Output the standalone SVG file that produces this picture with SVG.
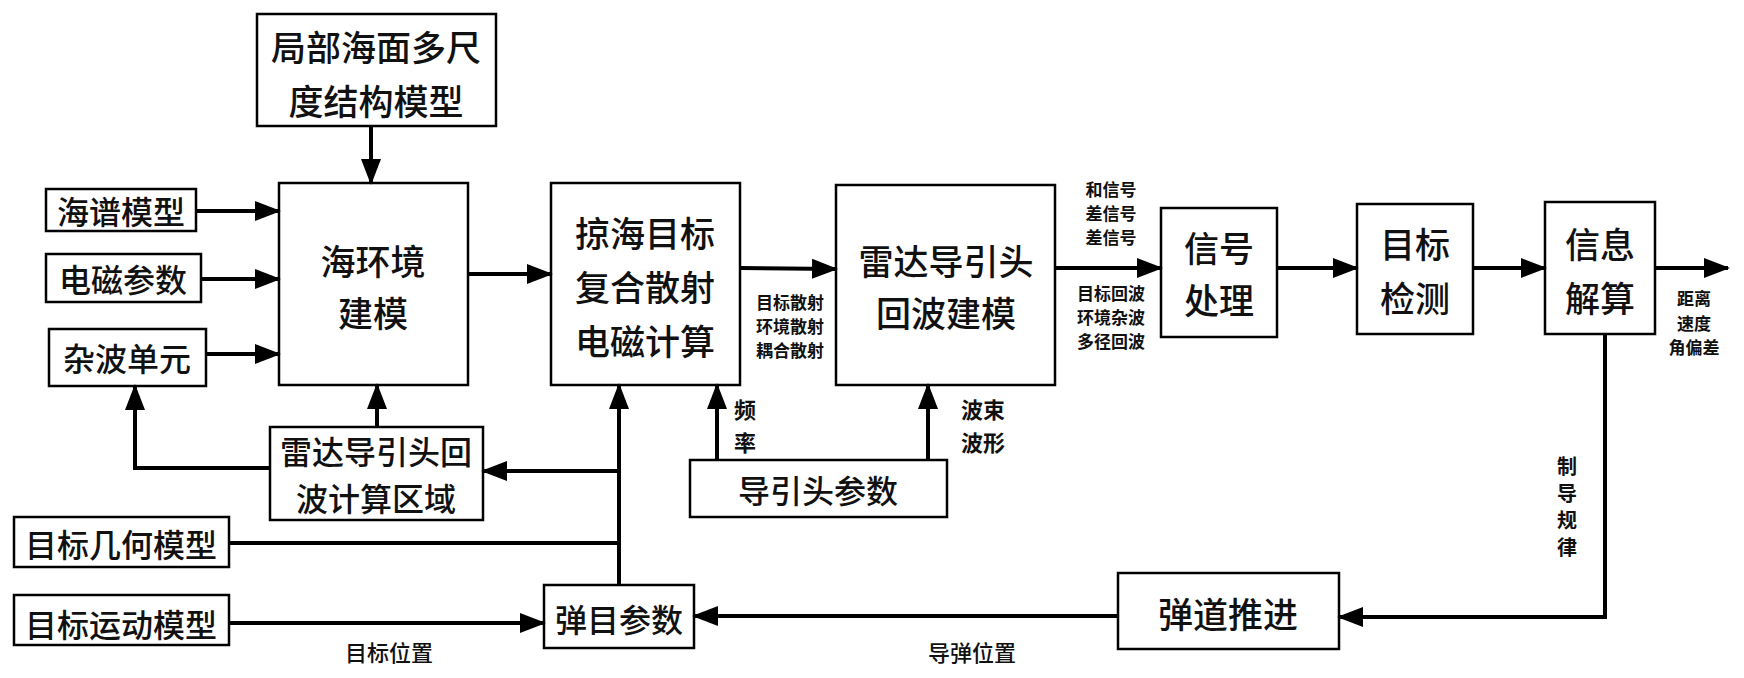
<svg xmlns="http://www.w3.org/2000/svg" width="1744" height="678" viewBox="0 0 1744 678">
<defs>
<marker id="ah" markerUnits="userSpaceOnUse" markerWidth="26" markerHeight="22" refX="24" refY="11" orient="auto"><path d="M0,1 L26,11 L0,21 Z" fill="#000"/></marker>
<style>
.b{fill:#fff;stroke:#000;stroke-width:2.5}
.t{font-family:"Noto Sans CJK SC",sans-serif;font-size:35px;font-weight:500;text-anchor:middle;dominant-baseline:central;fill:#111}
.s{font-family:"Noto Sans CJK SC",sans-serif;font-size:17px;font-weight:bold;text-anchor:middle;dominant-baseline:central;fill:#111}
.m{font-family:"Noto Sans CJK SC",sans-serif;font-size:22px;font-weight:bold;text-anchor:middle;dominant-baseline:central;fill:#111}
.v{font-family:"Noto Sans CJK SC",sans-serif;font-size:20px;font-weight:bold;text-anchor:middle;dominant-baseline:central;fill:#111}
.c{fill:none;stroke:#000;stroke-width:4}
.a{fill:none;stroke:#000;stroke-width:4;marker-end:url(#ah)}
</style>
</defs>
<rect width="1744" height="678" fill="#fff"/>
<g id="n1"><rect class="b" x="257" y="14" width="239" height="112"/><text class="t" x="376" y="45">局部海面多尺</text><text class="t" x="376" y="99">度结构模型</text></g>
<g id="n2"><rect class="b" x="279" y="183" width="189" height="202"/><text class="t" x="373" y="259">海环境</text><text class="t" x="373" y="311">建模</text></g>
<g id="n3"><rect class="b" x="46" y="189" width="150" height="42"/><text class="t" x="121" y="210" style="font-size:32px">海谱模型</text></g>
<g id="n4"><rect class="b" x="46" y="254" width="155" height="48"/><text class="t" x="123" y="278" style="font-size:32px">电磁参数</text></g>
<g id="n5"><rect class="b" x="49" y="329" width="157" height="57"/><text class="t" x="127" y="357" style="font-size:32px">杂波单元</text></g>
<g id="n6"><rect class="b" x="551" y="183" width="189" height="202"/><text class="t" x="645" y="231">掠海目标</text><text class="t" x="645" y="285">复合散射</text><text class="t" x="645" y="339">电磁计算</text></g>
<g id="n7"><rect class="b" x="836" y="185" width="219" height="200"/><text class="t" x="946" y="259">雷达导引头</text><text class="t" x="946" y="311">回波建模</text></g>
<g id="n8"><rect class="b" x="1161" y="208" width="116" height="129"/><text class="t" x="1219" y="246">信号</text><text class="t" x="1219" y="298">处理</text></g>
<g id="n9"><rect class="b" x="1357" y="204" width="116" height="130"/><text class="t" x="1415" y="242">目标</text><text class="t" x="1415" y="296">检测</text></g>
<g id="n10"><rect class="b" x="1545" y="202" width="110" height="132"/><text class="t" x="1600" y="242">信息</text><text class="t" x="1600" y="296">解算</text></g>
<g id="n11"><rect class="b" x="270" y="427" width="213" height="93"/><text class="t" x="376" y="450" style="font-size:32px">雷达导引头回</text><text class="t" x="376" y="497" style="font-size:32px">波计算区域</text></g>
<g id="n12"><rect class="b" x="690" y="460" width="257" height="57"/><text class="t" x="818" y="489" style="font-size:32px">导引头参数</text></g>
<g id="n13"><rect class="b" x="14" y="517" width="215" height="50"/><text class="t" x="121" y="543" style="font-size:32px">目标几何模型</text></g>
<g id="n14"><rect class="b" x="14" y="595" width="215" height="50"/><text class="t" x="121" y="623" style="font-size:32px">目标运动模型</text></g>
<g id="n15"><rect class="b" x="544" y="585" width="150" height="63"/><text class="t" x="619" y="618" style="font-size:32px">弹目参数</text></g>
<g id="n16"><rect class="b" x="1118" y="573" width="221" height="76"/><text class="t" x="1228" y="612">弹道推进</text></g>
<g id="connectors">
<path class="a" d="M371,126 V183"/>
<path class="a" d="M196,211 H279"/>
<path class="a" d="M201,279 H279"/>
<path class="a" d="M206,354 H279"/>
<path class="a" d="M468,274 H551"/>
<path class="a" d="M740,268 L836,269"/>
<path class="a" d="M1055,268 H1161"/>
<path class="a" d="M1277,268 H1357"/>
<path class="a" d="M1473,268 H1545"/>
<path class="a" d="M1655,268 H1728"/>
<path class="a" d="M270,468 H135 V386"/>
<path class="a" d="M377,427 V385"/>
<path class="a" d="M619,585 V385"/>
<path class="a" d="M619,471 H483"/>
<path class="c" d="M229,543 H619"/>
<path class="a" d="M229,623 H544"/>
<path class="a" d="M717,460 V385"/>
<path class="a" d="M928,460 V385"/>
<path class="a" d="M1605,334 V617 H1339"/>
<path class="a" d="M1118,616 H694"/>
</g>
<g id="labels">
<text class="s" x="1111" y="188">和信号</text><text class="s" x="1111" y="212">差信号</text><text class="s" x="1111" y="236">差信号</text>
<text class="s" x="1111" y="292">目标回波</text><text class="s" x="1111" y="316">环境杂波</text><text class="s" x="1111" y="340">多径回波</text>
<text class="s" x="790" y="301">目标散射</text><text class="s" x="790" y="325">环境散射</text><text class="s" x="790" y="349">耦合散射</text>
<text class="s" x="1694" y="297">距离</text><text class="s" x="1694" y="322">速度</text><text class="s" x="1694" y="346">角偏差</text>
<text class="m" x="745" y="408">频</text><text class="m" x="745" y="441">率</text>
<text class="m" x="983" y="408">波束</text><text class="m" x="983" y="441">波形</text>
<text class="v" x="1567" y="465">制</text><text class="v" x="1567" y="492">导</text><text class="v" x="1567" y="519">规</text><text class="v" x="1567" y="546">律</text>
<text class="m" x="389" y="651" style="font-weight:500">目标位置</text>
<text class="m" x="972" y="651" style="font-weight:500">导弹位置</text>
</g>
</svg>
